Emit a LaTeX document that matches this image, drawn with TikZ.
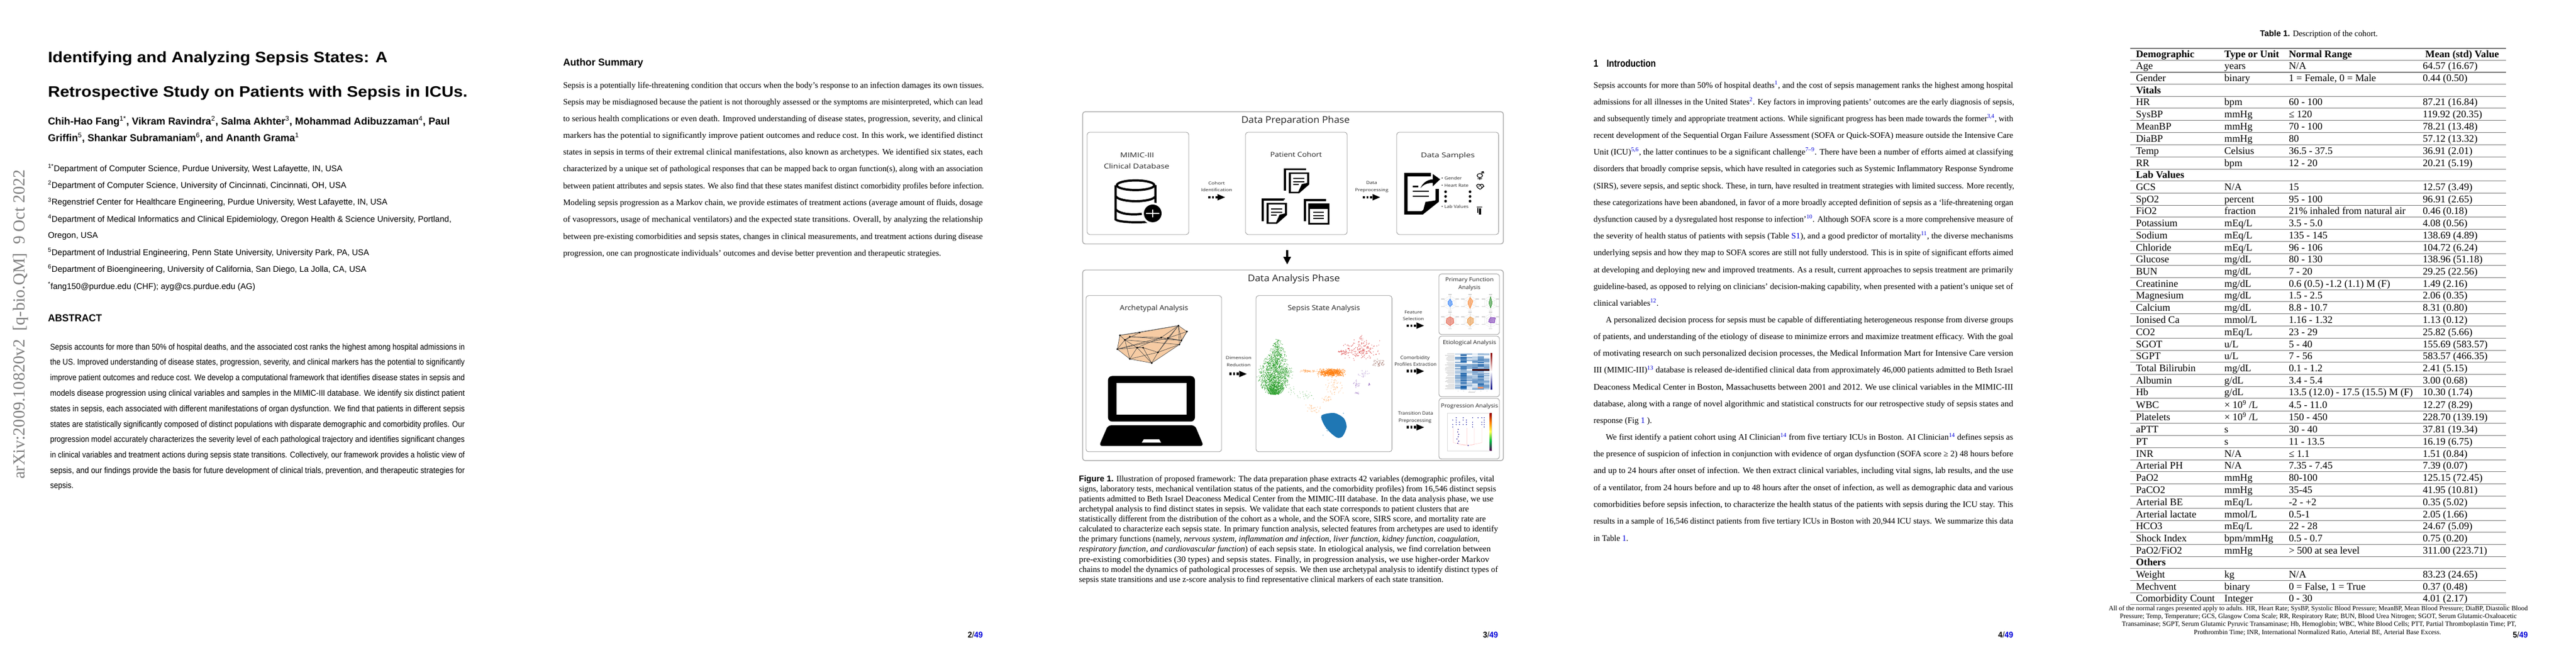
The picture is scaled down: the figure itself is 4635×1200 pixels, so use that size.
\documentclass[tikz,border=0pt]{standalone}
\usepackage{fontspec}
\usepackage{graphicx}
\usetikzlibrary{arrows.meta}
\setmainfont{Liberation Serif}
\setsansfont{Liberation Sans}
\newfontfamily\figfont{Open Sans}
\definecolor{linkb}{rgb}{0,0,0.85}
\definecolor{hmb}{HTML}{2166AC}
\definecolor{sgreen}{HTML}{2CA02C}
\definecolor{sorange}{HTML}{FF7F0E}
\definecolor{sblue}{HTML}{1F77B4}
\definecolor{sred}{HTML}{D62728}
\definecolor{spurple}{HTML}{9467BD}
\definecolor{sbrown}{HTML}{8C564B}
\definecolor{tan1}{HTML}{F6CBA3}
\newcounter{tlc}
\newsavebox{\tlbox}
\newcommand{\fitw}[2]{\sbox{\tlbox}{#2}\pgfmathsetmacro{\tlr}{#1*0.66019/\wd\tlbox}\scalebox{\tlr}[1]{\usebox{\tlbox}}}
\newcommand{\tline}[5][]{\stepcounter{tlc}\node[tbase,#1] (tl\arabic{tlc}) at (#2,#3) {\fitw{#4}{#5}};}
\newcommand{\ctline}[5][]{\stepcounter{tlc}\node[cbase,#1] (tl\arabic{tlc}) at (#2,#3) {\fitw{#4}{#5}};}
\newcommand{\rf}[1]{\textsuperscript{\textcolor{linkb}{#1}}}
\newcommand{\pnum}[2]{\tline[pn]{#1}{1144}{27}{\textbf{#2}/\textcolor{linkb}{\textbf{49}}}}
\newcommand{\trow}[5]{\draw[tblrule] (3833,#1)--(4509,#1);
 \stepcounter{tlc}\node[tcell] (tl\arabic{tlc}) at (3843,#1-5) {#2};
 \stepcounter{tlc}\node[tcell] (tl\arabic{tlc}) at (4002,#1-5) {#3};
 \stepcounter{tlc}\node[tcell] (tl\arabic{tlc}) at (4118,#1-5) {#4};
 \stepcounter{tlc}\node[tcell] (tl\arabic{tlc}) at (4359,#1-5) {#5};}
\newcommand{\flow}[3]{\stepcounter{tlc}\coordinate (fs\arabic{tlc}) at (#1,#2);\coordinate (fe\arabic{tlc}) at (#1+#3,#2);\draw[flowline] (fs\arabic{tlc})--(fe\arabic{tlc});}
\newcommand{\scat}[6]{\foreach \i in {1,...,#1}{\pgfmathsetmacro\sx{#2+#4*(rand+rand)/2}\pgfmathsetmacro\sy{#3+#5*(rand+rand)/2}\fill[#6] (\sx,\sy) circle[radius=.42pt];}}
\newcommand{\docA}[2]{\begin{scope}[shift={(#1,#2)},x=0.29473pt,y=-0.22pt]
 \fill (0,0) rectangle (90,10); \fill (0,0) rectangle (10,120);
 \fill (20,22)--(102,22)--(102,87)--(62,134)--(20,134)--cycle;
 \fill[white] (28,30)--(94,30)--(94,78)--(72,85)--(58,126)--(28,126)--cycle;
 \fill (38,52) rectangle (82,58); \fill (38,69) rectangle (82,75); \fill (38,84) rectangle (60,90);
 \end{scope}}
\newcommand{\radar}[9]{\begin{scope}[shift={(#1,#2)}]
 \foreach \rr in {4.5,8.5,12.5}{\draw[gray!30,line width=.15pt] (90:\rr)--(30:\rr)--(-30:\rr)--(-90:\rr)--(-150:\rr)--(150:\rr)--cycle;}
 \foreach \a in {90,30,-30,-90,-150,150}{\draw[gray!30,line width=.15pt] (0,0)--(\a:12.5);}
 \fill[#3,fill opacity=.45] (90:#4)--(30:#5)--(-30:#6)--(-90:#7)--(-150:#8)--(150:#9)--cycle;
 \draw[#3,line width=.3pt] (90:#4)--(30:#5)--(-30:#6)--(-90:#7)--(-150:#8)--(150:#9)--cycle;
 \foreach \px/\py in {-3/-15.5,-3/14,-16/-7.5,10/-7.5,-16/6,10/6}{\fill[gray!35] (\px,\py) rectangle ++(6,1.6);}
 \end{scope}}
\tikzset{
 tbase/.style={inner sep=0pt,anchor=mid west,text=black},
 cbase/.style={inner sep=0pt,anchor=mid,text=black!85},
 tcell/.style={inner sep=0pt,anchor=base west,font=\fontsize{12}{14}\selectfont},
 tblrule/.style={draw=black!55,line width=.7pt},
 pn/.style={font=\sffamily\fontsize{10}{12}\selectfont},
 sansb/.style={font=\sffamily\bfseries\fontsize{#1}{#1}\selectfont},
 sansr/.style={font=\sffamily\fontsize{#1}{#1}\selectfont},
 ser/.style={font=\fontsize{#1}{#1}\selectfont},
 fg/.style={font=\figfont\fontsize{#1}{#1}\selectfont},
 outerbox/.style={draw=black!38,line width=.8pt,rounded corners=3pt},
 innerbox/.style={draw=black!45,line width=.5pt,rounded corners=3pt},
 flowline/.style={line width=3.1pt,dash pattern=on 2.6pt off 1.7pt,-{Triangle[length=9.5pt,width=6.8pt]}},
}
\begin{document}
\begin{tikzpicture}[x=0.66019pt,y=-0.66pt]
\useasboundingbox (0,0) rectangle (4635,1200);
\fill[white] (0,0) rectangle (4635,1200);
\pgfmathsetseed{4711}
%% ---------- page 1
\tline[ser=20,rotate=90,text=black!50]{41}{862}{556}{arXiv:2009.10820v2\ \ [q-bio.QM]\ \ 9 Oct 2022}
\tline[sansb=18]{86}{109}{611}{Identifying and Analyzing Sepsis States: A}
\tline[sansb=18]{86}{171}{755}{Retrospective Study on Patients with Sepsis in ICUs.}
\tline[sansb=12]{86}{221}{723}{Chih-Hao Fang\textsuperscript{\mdseries 1*}, Vikram Ravindra\textsuperscript{\mdseries 2}, Salma Akhter\textsuperscript{\mdseries 3}, Mohammad Adibuzzaman\textsuperscript{\mdseries 4}, Paul}
\tline[sansb=12]{86}{251}{452}{Griffin\textsuperscript{\mdseries 5}, Shankar Subramaniam\textsuperscript{\mdseries 6}, and Ananth Grama\textsuperscript{\mdseries 1}}
\tline[sansr=10]{86}{305}{530}{\textsuperscript{1*}Department of Computer Science, Purdue University, West Lafayette, IN, USA}
\tline[sansr=10]{86}{335}{537}{\textsuperscript{2}Department of Computer Science, University of Cincinnati, Cincinnati, OH, USA}
\tline[sansr=10]{86}{365.5}{611}{\textsuperscript{3}Regenstrief Center for Healthcare Engineering, Purdue University, West Lafayette, IN, USA}
\tline[sansr=10]{86}{396}{726}{\textsuperscript{4}Department of Medical Informatics and Clinical Epidemiology, Oregon Health \& Science University, Portland,}
\tline[sansr=10]{86}{425.5}{90}{Oregon, USA}
\tline[sansr=10]{86}{456}{578}{\textsuperscript{5}Department of Industrial Engineering, Penn State University, University Park, PA, USA}
\tline[sansr=10]{86}{486}{573}{\textsuperscript{6}Department of Bioengineering, University of California, San Diego, La Jolla, CA, USA}
\tline[sansr=10]{86}{517}{373}{\textsuperscript{*}fang150@purdue.edu (CHF); ayg@cs.purdue.edu (AG)}
\tline[sansb=12]{86}{575}{97}{ABSTRACT}
\tline[sansr=10]{90}{626}{746}{Sepsis accounts for more than 50\% of hospital deaths, and the associated cost ranks the highest among hospital admissions in}
\tline[sansr=10]{90}{653.6}{746}{the US. Improved understanding of disease states, progression, severity, and clinical markers has the potential to significantly}
\tline[sansr=10]{90}{681.5}{746}{improve patient outcomes and reduce cost. We develop a computational framework that identifies disease states in sepsis and}
\tline[sansr=10]{90}{709}{746}{models disease progression using clinical variables and samples in the MIMIC-III database. We identify six distinct patient}
\tline[sansr=10]{90}{737}{746}{states in sepsis, each associated with different manifestations of organ dysfunction. We find that patients in different sepsis}
\tline[sansr=10]{90}{765}{746}{states are statistically significantly composed of distinct populations with disparate demographic and comorbidity profiles. Our}
\tline[sansr=10]{90}{792.5}{746}{progression model accurately characterizes the severity level of each pathological trajectory and identifies significant changes}
\tline[sansr=10]{90}{820}{746}{in clinical variables and treatment actions during sepsis state transitions. Collectively, our framework provides a holistic view of}
\tline[sansr=10]{90}{848}{746}{sepsis, and our findings provide the basis for future development of clinical trials, prevention, and therapeutic strategies for}
\tline[sansr=10]{90}{875.5}{42}{sepsis.}
%% ---------- page 2
\tline[sansb=12]{1013}{115}{144}{Author Summary}
\tline[ser=10]{1013}{155}{757}{Sepsis is a potentially life-threatening condition that occurs when the body’s response to an infection damages its own tissues.}
\tline[ser=10]{1013}{185}{755}{Sepsis may be misdiagnosed because the patient is not thoroughly assessed or the symptoms are misinterpreted, which can lead}
\tline[ser=10]{1013}{215.5}{755}{to serious health complications or even death. Improved understanding of disease states, progression, severity, and clinical}
\tline[ser=10]{1013}{245}{755}{markers has the potential to significantly improve patient outcomes and reduce cost. In this work, we identified distinct}
\tline[ser=10]{1013}{275.5}{755}{states in sepsis in terms of their extremal clinical manifestations, also known as archetypes. We identified six states, each}
\tline[ser=10]{1013}{305.4}{755}{characterized by a unique set of pathological responses that can be mapped back to organ function(s), along with an association}
\tline[ser=10]{1013}{336}{757}{between patient attributes and sepsis states. We also find that these states manifest distinct comorbidity profiles before infection.}
\tline[ser=10]{1013}{366}{755}{Modeling sepsis progression as a Markov chain, we provide estimates of treatment actions (average amount of fluids, dosage}
\tline[ser=10]{1013}{396}{755}{of vasopressors, usage of mechanical ventilators) and the expected state transitions. Overall, by analyzing the relationship}
\tline[ser=10]{1013}{427}{755}{between pre-existing comorbidities and sepsis states, changes in clinical measurements, and treatment actions during disease}
\tline[ser=10]{1013}{457}{680}{progression, one can prognosticate individuals’ outcomes and devise better prevention and therapeutic strategies.}
\pnum{1741}{2}
%% ---------- page 3 figure
\draw[outerbox] (1948,201) rectangle (2705,439);
\draw[outerbox] (1948,486) rectangle (2705,829);
\draw[innerbox] (1956,238) rectangle (2139,422);
\draw[innerbox] (2241,238) rectangle (2424,422);
\draw[innerbox] (2513,238) rectangle (2696.5,422);
\draw[innerbox] (1954,532) rectangle (2198,813);
\draw[innerbox] (2260,532) rectangle (2504.5,813);
\draw[innerbox] (2589,493) rectangle (2698,602);
\draw[innerbox] (2589,605) rectangle (2698,714);
\draw[innerbox] (2589,717) rectangle (2698,826);
\ctline[fg=11]{2331}{218}{195}{Data Preparation Phase}
\ctline[fg=8]{2046}{280}{61}{MIMIC-III}
\ctline[fg=8]{2045}{300}{118}{Clinical Database}
\ctline[fg=5]{2189}{329}{30}{Cohort}
\ctline[fg=5]{2189}{341}{56}{Identification}
\flow{2174}{355}{31}
\ctline[fg=8]{2332}{279}{93}{Patient Cohort}
\ctline[fg=5]{2468}{328}{20}{Data}
\ctline[fg=5]{2468}{341}{60}{Preprocessing}
\flow{2452}{355}{32}
\ctline[fg=8]{2605}{280}{97}{Data Samples}
\tline[fg=5,text=black!85]{2593}{320}{37}{• Gender}
\tline[fg=5,text=black!85]{2593}{333}{49}{• Heart Rate}
\tline[fg=5,text=black!85]{2593}{371}{49}{• Lab Values}
\foreach \yy in {345,353.5,362}{\fill (2601,\yy) circle[radius=1.6pt]; \fill (2645,\yy) circle[radius=1.6pt];}
% database icon
\begin{scope}[shift={(1160,100)},x=0.46313pt,y=-0.22pt,line width=2.6pt]
 \draw (1259,700) ellipse[x radius=48,y radius=26];
 \draw (1208,700)--(1208,885) .. controls (1215,900) and (1270,905) .. (1300,895);
 \draw (1310,700)--(1310,805);
 \draw (1208,760) .. controls (1220,795) and (1300,795) .. (1310,760);
 \draw (1208,830) .. controls (1220,862) and (1265,862) .. (1285,850);
 \fill[white] (1303,852) circle[radius=13pt];
 \fill (1303,852) circle[radius=10.5pt];
 \draw[white,line width=1.5pt] (1303,832)--(1303,872) (1286,852)--(1320,852);
\end{scope}
% cohort documents
\docA{2310}{303}
\docA{2270}{358}
\fill (2270,357) rectangle (2312,358.8);
\begin{scope}[shift={(2280,220)},x=0.29473pt,y=-0.22pt]
 \fill (147,415) rectangle (237,425); \fill (147,415) rectangle (157,535);
 \fill (165,437) rectangle (250,551);
 \fill[white] (172,468) rectangle (243,544);
 \fill (186,484) rectangle (229,490); \fill (186,501) rectangle (229,507); \fill (186,517) rectangle (229,523);
 % data sample document
 \draw[line width=4pt] (660,283)--(559,283)--(559,489)--(625,489)--(685,425)--(685,360);
 \fill (625,495)--(638,430)--(688,420)--cycle;
 \fill (618,355) .. controls (630,320) and (650,310) .. (668,308) -- (668,280) -- (697,308) -- (668,345) -- (668,328) .. controls (650,326) and (630,335) .. (618,355) -- cycle;
 \fill (587,342) rectangle (610,350); \fill (587,369) rectangle (652,376); \fill (587,395) rectangle (652,403);
 % gender, heart, tube
 \draw[line width=.8pt] (857,288) ellipse[x radius=11,y radius=11];
 \draw[line width=.8pt] (857,299)--(857,311) (848,305)--(866,305) (864,280)--(871,266) (862,270)--(871,266)--(873,276);
 \draw[line width=.8pt] (858,362) .. controls (835,345) and (845,328) .. (858,338) .. controls (870,328) and (882,345) .. (858,362) -- cycle;
 \draw[line width=.5pt] (848,345)--(856,345)--(860,338)--(864,352)--(876,345);
 \fill (845,455) rectangle (866,460);
 \draw[line width=1.3pt] (849,462)--(849,490) (861,465)--(861,498) (856,465)--(856,498);
\end{scope}
\coordinate (da) at (2316,450); \coordinate (db) at (2316,476);
\draw[line width=2.2pt,-{Triangle[length=9pt,width=8.5pt]}] (da)--(db);
\ctline[fg=11]{2328}{503}{166}{Data Analysis Phase}
\ctline[fg=8.5]{2076.4}{555}{123}{Archetypal Analysis}
\ctline[fg=8.5]{2382}{555}{130}{Sepsis State Analysis}
\ctline[fg=5]{2228.6}{643}{46}{Dimension}
\ctline[fg=5]{2228.6}{656}{43}{Reduction}
\flow{2212}{673}{32}
\ctline[fg=5]{2543}{561}{32}{Feature}
\ctline[fg=5]{2543}{573}{38}{Selection}
\flow{2531}{586}{32}
\ctline[fg=5.5]{2546}{643}{53}{Comorbidity}
\ctline[fg=5.5]{2547}{655}{76}{Profiles Extraction}
\flow{2531}{668}{32}
\ctline[fg=5.5]{2547}{743}{63}{Transition Data}
\ctline[fg=5.5]{2546}{756}{59}{Preprocessing}
\flow{2531}{769}{32}
\ctline[fg=6.5]{2644}{503}{87}{Primary Function}
\ctline[fg=6.5]{2644}{517}{40}{Analysis}
\ctline[fg=6.5]{2644}{616}{96}{Etiological Analysis}
\ctline[fg=6.5]{2644}{730}{103}{Progression Analysis}
% archetypal polytope and laptop
\begin{scope}[shift={(1940,480)},x=0.23578pt,y=-0.22pt]
 \coordinate (pa) at (210,370);\coordinate (pb) at (310,355);\coordinate (pc) at (505,318);\coordinate (pd) at (548,350);
 \coordinate (pe) at (520,398);\coordinate (pf) at (510,420);\coordinate (pg) at (402,462);\coordinate (ph) at (370,520);
 \coordinate (pi) at (260,498);\coordinate (pj) at (197,445);\coordinate (pk) at (235,395);\coordinate (pl) at (260,378);
 \coordinate (pm) at (297,437);\coordinate (pn) at (327,437);\coordinate (po) at (418,382);\coordinate (pp) at (452,385);
 \fill[tan1] (pa)--(pb)--(pc)--(pd)--(pe)--(pf)--(ph)--(pi)--(pj)--cycle;
 \draw[black!70,line width=.45pt] (pa)--(pb)--(pc)--(pd)--(pe)--(pf)--(ph)--(pi)--(pj)--cycle;
 \foreach \u/\v in {pa/pk,pk/pj,pk/pl,pk/pm,pl/po,pk/pi,pj/pm,pm/pi,pm/ph,pm/pn,pn/ph,pn/pg,pg/ph,pg/pp,pg/pi,pg/pf,po/pm,pp/pj,pc/po,pc/pp,pc/pg,pc/pe,pd/pp,pp/pe,pb/pk,pl/pe,pk/pf,po/pe,po/pj,pd/pf,pa/pc,pc/pf}{\draw[black!70,line width=.45pt] (\u)--(\v);}
 \foreach \u in {pa,pb,pc,pd,pe,pf,pg,ph,pi,pj,pk,pl,pm,pn,po,pp}{\fill (\u) circle[radius=1.1pt];}
 \fill[rounded corners=5pt] (150,836)--(150,590)--(588,590)--(588,836)--cycle;
 \fill[white] (193,628) rectangle (545,798);
 \fill[rounded corners=4pt] (150,856)--(588,856)--(632,968)--(105,968)--cycle;
 \fill[white] (330,932)--(408,932)--(418,950)--(320,950)--cycle;
 % scatter
 \foreach \i in {1,...,1700}{
  \pgfmathsetmacro\gy{375+315*sqrt(rnd)}
  \pgfmathsetmacro\gt{(\gy-560)/132}
  \pgfmathsetmacro\gh{\gy<560?5+0.2973*(\gy-375):60*sqrt(max(0,1-\gt*\gt))+4}
  \pgfmathsetmacro\gx{1010-0.1128*(min(\gy,570)-375)+\gh*(rand+rand)*0.72}
  \fill[sgreen] (\gx,\gy) circle[radius=.46pt];}
 \scat{90}{1050}{570}{35}{35}{sgreen!70!white}
 \scat{30}{1140}{695}{50}{30}{sgreen!55!white}
 \scat{15}{1075}{670}{20}{25}{sgreen!55!white}
 \scat{650}{1275}{572}{72}{24}{sorange}
 \scat{60}{1155}{563}{55}{8}{sorange!70!white}
 \scat{60}{1290}{650}{55}{45}{sorange!55!white}
 \scat{30}{1255}{715}{35}{20}{sorange!55!white}
 \scat{40}{1190}{765}{45}{25}{sorange!55!white}
 \fill[sblue] plot[smooth cycle] coordinates {(1226,803) (1290,790) (1338,818) (1352,865) (1332,915) (1305,923) (1268,893) (1238,852)};
 \scat{60}{1290}{850}{62}{66}{sblue}
 \scat{170}{1425}{450}{100}{62}{sred}
 \scat{35}{1335}{462}{30}{15}{sred}
 \scat{15}{1425}{382}{10}{15}{sred!70!white}
 \scat{45}{1515}{520}{35}{25}{sbrown}
 \scat{25}{1435}{575}{35}{25}{spurple!70!white}
 \scat{20}{1400}{635}{22}{30}{spurple}
 \scat{10}{1405}{682}{10}{6}{spurple}
 \scat{10}{1465}{636}{7}{8}{spurple}
\end{scope}
% radar charts
\radar{2609}{545}{blue!60!cyan}{7}{5}{4}{7}{4}{4}
\radar{2645}{545}{orange!85!red}{10}{4}{6}{10}{4}{4}
\radar{2682}{545}{green!50!black}{9}{3}{3}{11}{3}{3}
\radar{2609}{577}{red!55!brown}{9}{8}{7}{7}{7}{8}
\radar{2645}{577}{orange!70!brown}{9}{7}{7}{7}{5}{6}
\radar{2682}{577}{violet!70!blue}{4}{8}{10}{6}{3}{4}
% heat map
\foreach \r in {0,...,29}{
 \pgfmathsetmacro\lablen{2600+6*rnd}
 \fill[gray!40] (\lablen,636.5+\r*2.17) rectangle (2616.5,637.1+\r*2.17);
 \pgfmathsetmacro\rowkick{rnd<.1?-40:0}
 \foreach \c/\b in {0/38,1/72,2/28,3/42,4/68,5/35}{
  \pgfmathtruncatemacro\lv{max(0,min(100,\b+\rowkick+30*rand))}
  \fill[hmb!\lv!white] (2618+\c*10.33,636+\r*2.17) rectangle (2618+\c*10.33+10.4,636+\r*2.17+2.25);}}
\fill[black!75!red] (2649,664.5) rectangle (2680,667);
\fill[red!40!orange!60!white] (2659,696.5) rectangle (2669,699.5);
\fill[hmb!95!black] (2628.3,638) rectangle (2638.6,640.5);
\shade[top color=red!55!black,bottom color=white] (2682,636) rectangle (2685,668.5);
\shade[top color=white,bottom color=blue!50!black] (2682,668.5) rectangle (2685,701);
\foreach \c in {0,...,5}{\fill[gray!50] (2623+\c*10.33,703) rectangle (2624+\c*10.33,704);}
\fill[gray!50] (2642,705.5) rectangle (2654,706.5);
% progression chart
\begin{scope}[shift={(2280,570)},x=0.29473pt,y=-0.22pt]
 \draw[gray!30,line width=.3pt] (727,520) rectangle (905,723);
 \draw[red!25,line width=.25pt] (770,600)--(770,690)--(810,695) (805,600)--(805,690)--(810,695) (835,600)--(835,690)--(810,695) (865,600)--(865,680)--(810,695) (750,600)--(750,680)--(810,695);
 \foreach \yy in {545,558,570,582,595}{
  \foreach \xx in {748,762,775,790,803,828,850,865,875}{
   \pgfmathsetmacro\keep{rnd}
   \ifdim\keep pt>0.4pt \fill[blue!60!black] (\xx,\yy) circle[radius=.55pt];\fi}}
 \foreach \xx/\yy in {770/608,768/622,772/635,770/648,765/660,772/672,768/683,810/695}{\fill[blue!60!black] (\xx,\yy) circle[radius=.6pt];}
 \shade[top color=red!60!black,bottom color=orange] (897,521) rectangle (905,570);
 \shade[top color=orange,bottom color=yellow!70!white] (897,570) rectangle (905,620);
 \shade[top color=yellow!70!white,bottom color=green!50!teal] (897,620) rectangle (905,670);
 \shade[top color=green!50!teal,bottom color=violet!70!black] (897,670) rectangle (905,723);
\end{scope}
%% caption
\tline[ser=10]{1941}{863}{747.5}{\textsf{\textbf{Figure 1.}} Illustration of proposed framework: The data preparation phase extracts 42 variables (demographic profiles, vital}
\tline[ser=10]{1941}{881}{750.6}{signs, laboratory tests, mechanical ventilation status of the patients, and the comorbidity profiles) from 16,546 distinct sepsis}
\tline[ser=10]{1941}{899}{746}{patients admitted to Beth Israel Deaconess Medical Center from the MIMIC-III database. In the data analysis phase, we use}
\tline[ser=10]{1941}{917}{701.5}{archetypal analysis to find distinct states in sepsis. We validate that each state corresponds to patient clusters that are}
\tline[ser=10]{1941}{935}{732}{statistically different from the distribution of the cohort as a whole, and the SOFA score, SIRS score, and mortality rate are}
\tline[ser=10]{1941}{953}{754}{calculated to characterize each sepsis state. In primary function analysis, selected features from archetypes are used to identify}
\tline[ser=10]{1941}{971.6}{721}{the primary functions (namely, \textit{nervous system, inflammation and infection, liver function, kidney function, coagulation,}}
\tline[ser=10]{1941}{989}{741}{\textit{respiratory function, and cardiovascular function}) of each sepsis state. In etiological analysis, we find correlation between}
\tline[ser=10]{1941}{1008}{738.5}{pre-existing comorbidities (30 types) and sepsis states. Finally, in progression analysis, we use higher-order Markov}
\tline[ser=10]{1941}{1026}{754}{chains to model the dynamics of pathological processes of sepsis. We then use archetypal analysis to identify distinct types of}
\tline[ser=10]{1941}{1044}{656}{sepsis state transitions and use z-score analysis to find representative clinical markers of each state transition.}
\pnum{2668}{3}
%% ---------- page 4
\tline[sansb=12]{2867}{117}{112}{1\quad Introduction}
\tline[ser=10]{2867}{154.6}{755}{Sepsis accounts for more than 50\% of hospital deaths\rf{1}, and the cost of sepsis management ranks the highest among hospital}
\tline[ser=10]{2867}{184.6}{757}{admissions for all illnesses in the United States\rf{2}. Key factors in improving patients’ outcomes are the early diagnosis of sepsis,}
\tline[ser=10]{2867}{215}{755}{and subsequently timely and appropriate treatment actions. While significant progress has been made towards the former\rf{3,4}, with}
\tline[ser=10]{2867}{245}{755}{recent development of the Sequential Organ Failure Assessment (SOFA or Quick-SOFA) measure outside the Intensive Care}
\tline[ser=10]{2867}{275}{755}{Unit (ICU)\rf{5,6}, the latter continues to be a significant challenge\rf{7–9}. There have been a number of efforts aimed at classifying}
\tline[ser=10]{2867}{305}{755}{disorders that broadly comprise sepsis, which have resulted in categories such as Systemic Inflammatory Response Syndrome}
\tline[ser=10]{2867}{336}{757}{(SIRS), severe sepsis, and septic shock. These, in turn, have resulted in treatment strategies with limited success. More recently,}
\tline[ser=10]{2867}{366}{755}{these categorizations have been abandoned, in favor of a more broadly accepted definition of sepsis as a ‘life-threatening organ}
\tline[ser=10]{2867}{396}{755}{dysfunction caused by a dysregulated host response to infection’\rf{10}. Although SOFA score is a more comprehensive measure of}
\tline[ser=10]{2867}{426}{755}{the severity of health status of patients with sepsis (Table \textcolor{linkb}{S1}), and a good predictor of mortality\rf{11}, the diverse mechanisms}
\tline[ser=10]{2867}{456}{755}{underlying sepsis and how they map to SOFA scores are still not fully understood. This is in spite of significant efforts aimed}
\tline[ser=10]{2867}{487}{755}{at developing and deploying new and improved treatments. As a result, current approaches to sepsis treatment are primarily}
\tline[ser=10]{2867}{517}{755}{guideline-based, as opposed to relying on clinicians’ decision-making capability, when presented with a patient’s unique set of}
\tline[ser=10]{2867}{547}{117}{clinical variables\rf{12}.}
\tline[ser=10]{2889}{577.5}{733}{A personalized decision process for sepsis must be capable of differentiating heterogeneous response from diverse groups}
\tline[ser=10]{2867}{607.5}{755}{of patients, and understanding of the etiology of disease to minimize errors and maximize treatment efficacy. With the goal}
\tline[ser=10]{2867}{637}{755}{of motivating research on such personalized decision processes, the Medical Information Mart for Intensive Care version}
\tline[ser=10]{2867}{667.5}{755}{III (MIMIC-III)\rf{13} database is released de-identified clinical data from approximately 46,000 patients admitted to Beth Israel}
\tline[ser=10]{2867}{698}{755}{Deaconess Medical Center in Boston, Massachusetts between 2001 and 2012. We use clinical variables in the MIMIC-III}
\tline[ser=10]{2867}{728}{755}{database, along with a range of novel algorithmic and statistical constructs for our retrospective study of sepsis states and}
\tline[ser=10]{2867}{758}{105}{response (Fig \textcolor{linkb}{1} ).}
\tline[ser=10]{2889}{788.6}{733}{We first identify a patient cohort using AI Clinician\rf{14} from five tertiary ICUs in Boston. AI Clinician\rf{14} defines sepsis as}
\tline[ser=10]{2867}{818.6}{755}{the presence of suspicion of infection in conjunction with evidence of organ dysfunction (SOFA score ≥ 2) 48 hours before}
\tline[ser=10]{2867}{848.6}{755}{and up to 24 hours after onset of infection. We then extract clinical variables, including vital signs, lab results, and the use}
\tline[ser=10]{2867}{879}{755}{of a ventilator, from 24 hours before and up to 48 hours after the onset of infection, as well as demographic data and various}
\tline[ser=10]{2867}{909}{755}{comorbidities before sepsis infection, to characterize the health status of the patients with sepsis during the ICU stay. This}
\tline[ser=10]{2867}{939.6}{755}{results in a sample of 16,546 distinct patients from five tertiary ICUs in Boston with 20,944 ICU stays. We summarize this data}
\tline[ser=10]{2867}{970}{62.5}{in Table \textcolor{linkb}{1}.}
\pnum{3595}{4}
%% ---------- page 5
\tline[ser=10]{4066}{62}{212}{\textsf{\textbf{Table 1.}} Description of the cohort.}
\draw[tblrule] (3833,87)--(4509,87);
\trow{108.7}{\textbf{Demographic}}{\textbf{Type or Unit}}{\textbf{Normal Range}}{\hspace{3pt}\textbf{Mean (std) Value}}
\trow{130}{Age}{years}{N/A}{64.57 (16.67)}
\trow{152}{Gender}{binary}{1 = Female, 0 = Male}{0.44 (0.50)}
\trow{174}{\textbf{Vitals}}{}{}{}
\trow{195}{HR}{bpm}{60 - 100}{87.21 (16.84)}
\trow{217}{SysBP}{mmHg}{≤ 120}{119.92 (20.35)}
\trow{239}{MeanBP}{mmHg}{70 - 100}{78.21 (13.48)}
\trow{261}{DiaBP}{mmHg}{80}{57.12 (13.32)}
\trow{283}{Temp}{Celsius}{36.5 - 37.5}{36.91 (2.01)}
\trow{305}{RR}{bpm}{12 - 20}{20.21 (5.19)}
\trow{326}{\textbf{Lab Values}}{}{}{}
\trow{348}{GCS}{N/A}{15}{12.57 (3.49)}
\trow{370}{SpO2}{percent}{95 - 100}{96.91 (2.65)}
\trow{391}{FiO2}{fraction}{21\% inhaled from natural air}{0.46 (0.18)}
\trow{413}{Potassium}{mEq/L}{3.5 - 5.0}{4.08 (0.56)}
\trow{435}{Sodium}{mEq/L}{135 - 145}{138.69 (4.89)}
\trow{456.7}{Chloride}{mEq/L}{96 - 106}{104.72 (6.24)}
\trow{478}{Glucose}{mg/dL}{80 - 130}{138.96 (51.18)}
\trow{500}{BUN}{mg/dL}{7 - 20}{29.25 (22.56)}
\trow{521.7}{Creatinine}{mg/dL}{0.6 (0.5) -1.2 (1.1) M (F)}{1.49 (2.16)}
\trow{543}{Magnesium}{mg/dL}{1.5 - 2.5}{2.06 (0.35)}
\trow{565}{Calcium}{mg/dL}{8.8 - 10.7}{8.31 (0.80)}
\trow{587}{Ionised Ca}{mmol/L}{1.16 - 1.32}{1.13 (0.12)}
\trow{608.7}{CO2}{mEq/L}{23 - 29}{25.82 (5.66)}
\trow{630.7}{SGOT}{u/L}{5 - 40}{155.69 (583.57)}
\trow{652}{SGPT}{u/L}{7 - 56}{583.57 (466.35)}
\trow{674}{Total Bilirubin}{mg/dL}{0.1 - 1.2}{2.41 (5.15)}
\trow{695.7}{Albumin}{g/dL}{3.4 - 5.4}{3.00 (0.68)}
\trow{717}{Hb}{g/dL}{13.5 (12.0) - 17.5 (15.5) M (F)}{10.30 (1.74)}
\trow{740}{WBC}{× 10\textsuperscript{9} /L}{4.5 - 11.0}{12.27 (8.29)}
\trow{762}{Platelets}{× 10\textsuperscript{9} /L}{150 - 450}{228.70 (139.19)}
\trow{784}{aPTT}{s}{30 - 40}{37.81 (19.34)}
\trow{806}{PT}{s}{11 - 13.5}{16.19 (6.75)}
\trow{827.7}{INR}{N/A}{≤ 1.1}{1.51 (0.84)}
\trow{849}{Arterial PH}{N/A}{7.35 - 7.45}{7.39 (0.07)}
\trow{871}{PaO2}{mmHg}{80-100}{125.15 (72.45)}
\trow{893}{PaCO2}{mmHg}{35-45}{41.95 (10.81)}
\trow{914.7}{Arterial BE}{mEq/L}{-2 - +2}{0.35 (5.02)}
\trow{936.7}{Arterial lactate}{mmol/L}{0.5-1}{2.05 (1.66)}
\trow{958}{HCO3}{mEq/L}{22 - 28}{24.67 (5.09)}
\trow{980}{Shock Index}{bpm/mmHg}{0.5 - 0.7}{0.75 (0.20)}
\trow{1001.7}{PaO2/FiO2}{mmHg}{> 500 at sea level}{311.00 (223.71)}
\trow{1023}{\textbf{Others}}{}{}{}
\trow{1045}{Weight}{kg}{N/A}{83.23 (24.65)}
\trow{1067}{Mechvent}{binary}{0 = False, 1 = True}{0.37 (0.48)}
\trow{1088}{Comorbidity Count}{Integer}{0 - 30}{4.01 (2.17)}
\tline[ser=8]{3794}{1095}{754}{All of the normal ranges presented apply to adults. HR, Heart Rate; SysBP, Systolic Blood Pressure; MeanBP, Mean Blood Pressure; DiaBP, Diastolic Blood}
\tline[ser=8]{3814}{1109}{714}{Pressure; Temp, Temperature; GCS, Glasgow Coma Scale; RR, Respiratory Rate; BUN, Blood Urea Nitrogen; SGOT, Serum Glutamic-Oxaloacetic}
\tline[ser=8]{3817.5}{1123.5}{709.5}{Transaminase; SGPT, Serum Glutamic Pyruvic Transaminase; Hb, Hemoglobin; WBC, White Blood Cells; PTT, Partial Thromboplastin Time; PT,}
\tline[ser=8]{3947}{1138}{445}{Prothrombin Time; INR, International Normalized Ratio, Arterial BE, Arterial Base Excess.}
\pnum{4521}{5}
\end{tikzpicture}
\end{document}
